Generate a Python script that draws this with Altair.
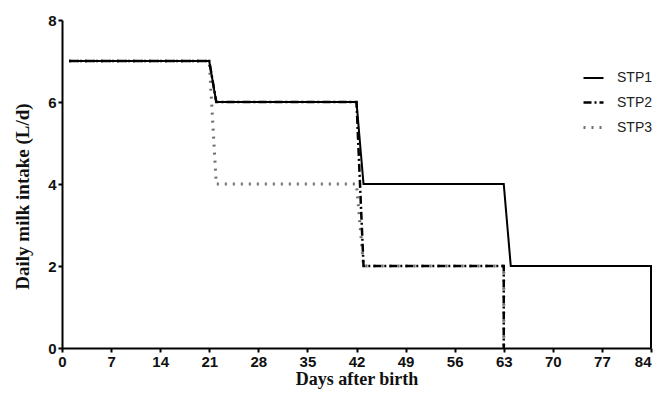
import altair as alt
import pandas as pd

# Vertices of each step series (day, L/d)
stp1_days = [1, 21, 22, 42, 43, 63, 64, 84, 84]
stp1_vals = [7, 7, 6, 6, 4, 4, 2, 2, 0]
stp2_days = [1, 21, 22, 42, 43, 63, 63]
stp2_vals = [7, 7, 6, 6, 2, 2, 0]
stp3_days = [1, 21, 22, 42, 43, 63, 63]
stp3_vals = [7, 7, 4, 4, 2, 2, 0]

series = ["STP1", "STP2", "STP3"]
x_ticks = [0, 7, 14, 21, 28, 35, 42, 49, 56, 63, 70, 77, 84]
y_ticks = [0, 2, 4, 6, 8]

rows = []
for name, days, vals in [("STP1", stp1_days, stp1_vals),
                         ("STP2", stp2_days, stp2_vals),
                         ("STP3", stp3_days, stp3_vals)]:
    for i, (d, v) in enumerate(zip(days, vals)):
        rows.append({"series": name, "day": d, "intake": v, "idx": i})
df = pd.DataFrame(rows)

color_scale = alt.Scale(domain=series, range=["#000000", "#000000", "#6f6f6f"])
dash_scale = alt.Scale(domain=series, range=[[1, 0], [8, 3, 2, 3], [2, 6]])
width_scale = alt.Scale(domain=series, range=[2, 3, 2.5])

legend = alt.Legend(
    title=None, orient="none", legendX=520, legendY=47,
    symbolType="stroke", symbolSize=400, symbolStrokeWidth=2.5,
    labelFont="Liberation Sans", labelFontSize=14, labelColor="#222222",
    labelOffset=12, rowPadding=6, padding=0,
)

base = alt.Chart(df).mark_line(strokeCap="butt").encode(
    x=alt.X("day:Q", scale=alt.Scale(domain=[0, 84], nice=False),
            axis=alt.Axis(values=x_ticks, title="Days after birth", grid=False,
                          labelAlign=alt.condition("datum.value == 84",
                                                   alt.value("right"),
                                                   alt.value("center")))),
    y=alt.Y("intake:Q", scale=alt.Scale(domain=[0, 8], nice=False),
            axis=alt.Axis(values=y_ticks, title="Daily milk intake (L/d)",
                          grid=False, titleY=176)),
    color=alt.Color("series:N", scale=color_scale, legend=legend),
    strokeDash=alt.StrokeDash("series:N", scale=dash_scale, legend=legend),
    strokeWidth=alt.StrokeWidth("series:N", scale=width_scale, legend=None),
    order="idx:Q",
)

layers = [base.transform_filter(alt.datum.series == s) for s in ["STP3", "STP2", "STP1"]]

chart = alt.layer(*layers).properties(
    width=589, height=328,
    autosize=alt.AutoSizeParams(type="none"),
    padding={"left": 54, "top": 12, "right": 3, "bottom": 41},
).configure_view(stroke=None).configure_axis(
    domainColor="#000000", domainWidth=2, tickColor="#000000", tickWidth=2,
    tickSize=4, labelFont="Liberation Sans", labelFontWeight="bold",
    labelFontSize=15, labelColor="#111111", labelPadding=2,
    titleFont="Liberation Serif", titleFontWeight="bold",
    titleColor="#111111",
).configure_axisX(titlePadding=1, titleFontSize=18).configure_axisY(
    titlePadding=15, titleFontSize=19)

chart.save("out.html", embed_options={"renderer": "svg", "actions": False})
